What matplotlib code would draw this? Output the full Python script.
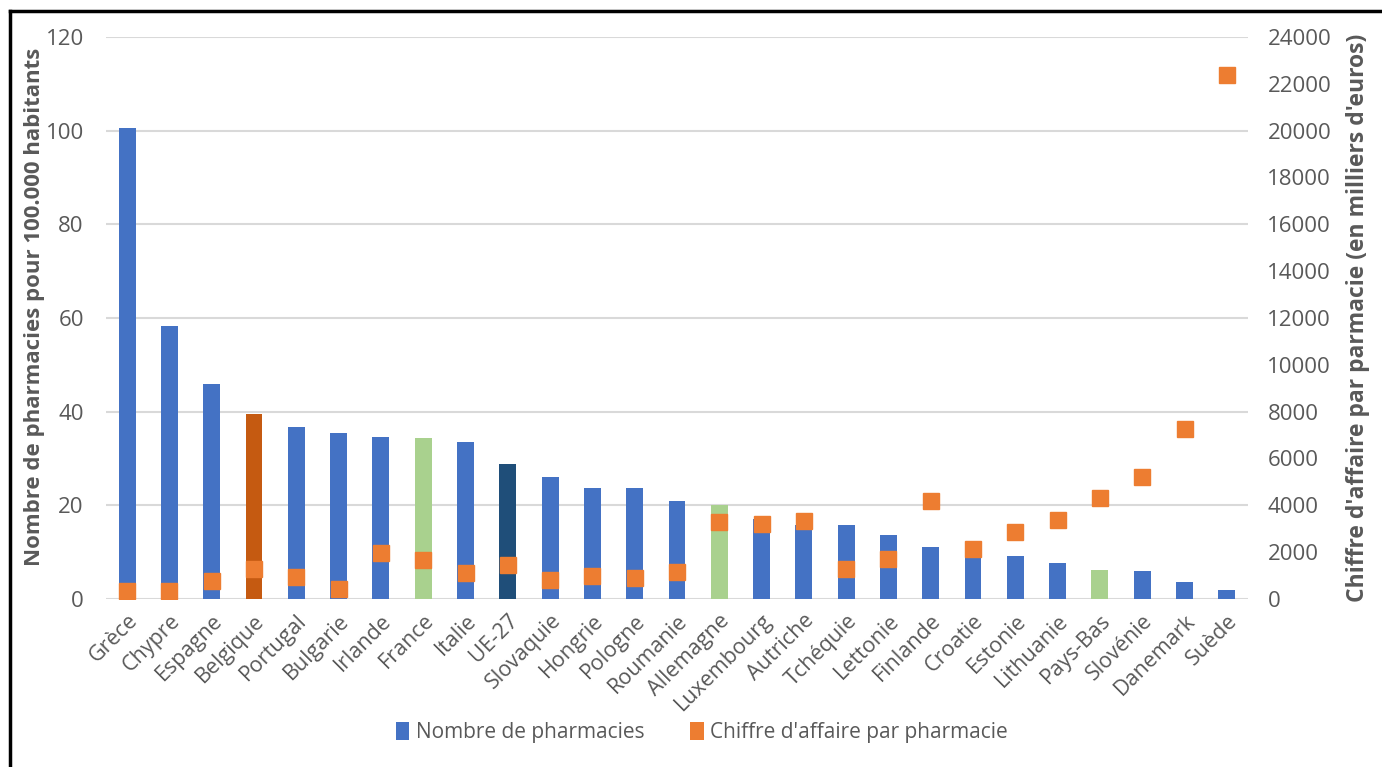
import numpy as np
import matplotlib.pyplot as plt
from matplotlib.patches import Patch
from matplotlib.lines import Line2D

plt.rcParams['font.family'] = ['Open Sans', 'DejaVu Sans']

pays = ['Grèce', 'Chypre', 'Espagne', 'Belgique', 'Portugal', 'Bulgarie', 'Irlande',
        'France', 'Italie', 'UE-27', 'Slovaquie', 'Hongrie', 'Pologne', 'Roumanie',
        'Allemagne', 'Luxembourg', 'Autriche', 'Tchéquie', 'Lettonie', 'Finlande',
        'Croatie', 'Estonie', 'Lithuanie', 'Pays-Bas', 'Slovénie', 'Danemark', 'Suède']

# pharmacies pour 100 000 habitants
nb_pharmacies = [100.6, 58.3, 46.0, 39.4, 36.7, 35.4, 34.6, 34.4, 33.6, 28.8,
                 26.0, 23.7, 23.6, 20.9, 20.0, 17.0, 15.9, 15.8, 13.6, 11.2,
                 9.7, 9.2, 7.7, 6.3, 6.0, 3.6, 2.0]

# chiffre d'affaire par pharmacie (milliers d'euros)
ca_pharmacie = [350, 350, 780, 1300, 930, 410, 1960, 1660, 1100, 1470,
                810, 1000, 880, 1170, 3290, 3220, 3350, 1280, 1690, 4190,
                2140, 2860, 3370, 4320, 5210, 7270, 22360]

BLEU = '#4472C4'
ORANGE = '#ED7D31'
GRIS = '#595959'
couleurs_speciales = {'Belgique': '#C55A11', 'France': '#A9D18E',
                      'Allemagne': '#A9D18E', 'Pays-Bas': '#A9D18E',
                      'UE-27': '#1F4E79'}
couleurs = [couleurs_speciales.get(p, BLEU) for p in pays]

fig = plt.figure(figsize=(13.82, 7.67), dpi=100)
ax = fig.add_axes([0.0767, 0.219, 0.8263, 0.733])
ax2 = ax.twinx()

x = np.arange(len(pays))
ax.bar(x, nb_pharmacies, width=0.4, color=couleurs, zorder=2)
ax2.plot(x, ca_pharmacie, 's', color=ORANGE, markersize=11, zorder=3)

ax.set_xlim(-0.5, len(pays) - 0.5)
ax.set_ylim(0, 120)
ax.set_yticks(range(0, 121, 20))
ax2.set_ylim(0, 24000)
ax2.set_yticks(range(0, 24001, 2000))

ax.yaxis.grid(True, color='#D9D9D9', linewidth=1.5, zorder=0)
ax.set_axisbelow(True)
for a in (ax, ax2):
    for s in a.spines.values():
        s.set_visible(False)
    a.tick_params(length=0, labelsize=16, labelcolor=GRIS)

ax.tick_params(axis='y', pad=16)
ax2.tick_params(axis='y', pad=14)
for t in ax2.get_yticklabels():
    t.set_horizontalalignment('left')

ax.set_xticks(x)
ax.set_xticklabels(pays, rotation=45, ha='right', va='top', rotation_mode='anchor',
                   fontsize=15.5)
ax.tick_params(axis='x', pad=8)

ax.set_ylabel('Nombre de pharmacies pour 100.000 habitants', fontsize=16,
              fontweight='bold', color=GRIS)
ax2.set_ylabel("Chiffre d'affaire par parmacie (en milliers d'euros)", fontsize=16.5,
               fontweight='bold', color=GRIS)
ax.yaxis.set_label_coords(-0.053, 0.52)
ax2.yaxis.set_label_coords(1.086, 0.5)

handles = [Patch(facecolor=BLEU, label='Nombre de pharmacies'),
           Patch(facecolor=ORANGE, label="Chiffre d'affaire par pharmacie")]
fig.legend(handles=handles, loc='center', bbox_to_anchor=(0.508, 0.045), ncol=2,
           frameon=False, fontsize=15, labelcolor=GRIS, handlelength=0.63,
           handleheight=0.96, handletextpad=0.33, columnspacing=2.2)

# cadre noir gauche et haut
fig.add_artist(Line2D([0.0072, 0.0072], [0, 0.986], color='black', linewidth=2.5,
                      transform=fig.transFigure))
fig.add_artist(Line2D([0.0072, 1.0], [0.986, 0.986], color='black', linewidth=2.5,
                      transform=fig.transFigure))

fig.savefig('out.png', dpi=100)
